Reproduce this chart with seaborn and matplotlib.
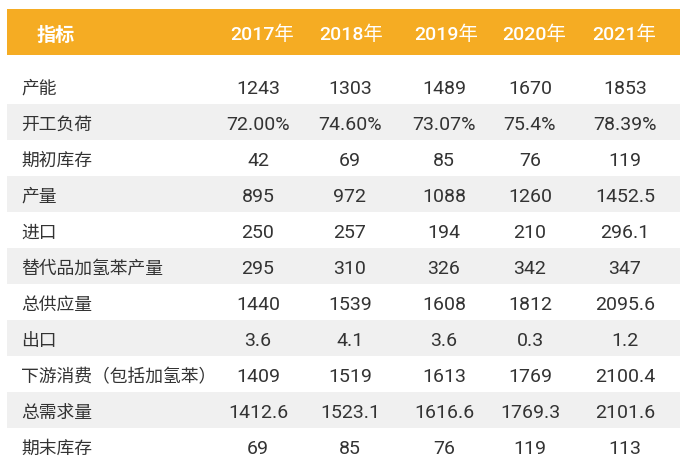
import matplotlib
matplotlib.use("Agg")
import matplotlib.pyplot as plt
import seaborn as sns

sns.set_theme(style="white")
plt.rcParams['font.family'] = ['Noto Sans CJK SC', 'DejaVu Sans']

header_label = "指标"
years = ["2017年", "2018年", "2019年", "2020年", "2021年"]
row_labels = ["产能", "开工负荷", "期初库存", "产量", "进口", "替代品加氢苯产量",
              "总供应量", "出口", "下游消费（包括加氢苯）", "总需求量", "期末库存"]
col_2017 = ["1243", "72.00%", "42", "895", "250", "295", "1440", "3.6", "1409", "1412.6", "69"]
col_2018 = ["1303", "74.60%", "69", "972", "257", "310", "1539", "4.1", "1519", "1523.1", "85"]
col_2019 = ["1489", "73.07%", "85", "1088", "194", "326", "1608", "3.6", "1613", "1616.6", "76"]
col_2020 = ["1670", "75.4%", "76", "1260", "210", "342", "1812", "0.3", "1769", "1769.3", "119"]
col_2021 = ["1853", "78.39%", "119", "1452.5", "296.1", "347", "2095.6", "1.2", "2100.4", "2101.6", "113"]
columns = [col_2017, col_2018, col_2019, col_2020, col_2021]

W, H = 685, 468
fig = plt.figure(figsize=(W / 100, H / 100), dpi=100)
ax = fig.add_axes([0, 0, 1, 1])
ax.set_xlim(0, W)
ax.set_ylim(H, 0)
ax.axis("off")

orange = "#F5AC23"
stripe = "#F0F0F0"
txt = "#333333"
cjk_fs = 12.8
num_fs = 14
num_family = ['Roboto', 'Noto Sans CJK SC']

# header band
ax.fill_between([7, 680], 9, 55, color=orange, lw=0)
ax.text(37, 33, header_label, ha="left", va="center_baseline", color="white",
        fontsize=13.8, fontweight="bold")
head_x = [262, 351, 446, 534, 624]
data_x = [258, 350, 444, 530, 625]
for x, y in zip(head_x, years):
    ax.text(x, 33, y, ha="center", va="center_baseline", color="white",
            fontsize=num_fs, family=num_family, fontweight="medium")

row_y0, pitch = 86, 36
for i, lab in enumerate(row_labels):
    yc = row_y0 + pitch * i
    if i % 2 == 1:
        ax.fill_between([7, 680], yc - pitch / 2, yc + pitch / 2, color=stripe, lw=0)
    ax.text(21, yc + 1, lab, ha="left", va="center_baseline", color=txt, fontsize=cjk_fs)
    for x, col in zip(data_x, columns):
        ax.text(x, yc + 1, col[i], ha="center", va="center_baseline", color=txt,
                fontsize=num_fs, family=num_family, fontweight="normal")

fig.savefig("out.png", dpi=100, facecolor="white")
